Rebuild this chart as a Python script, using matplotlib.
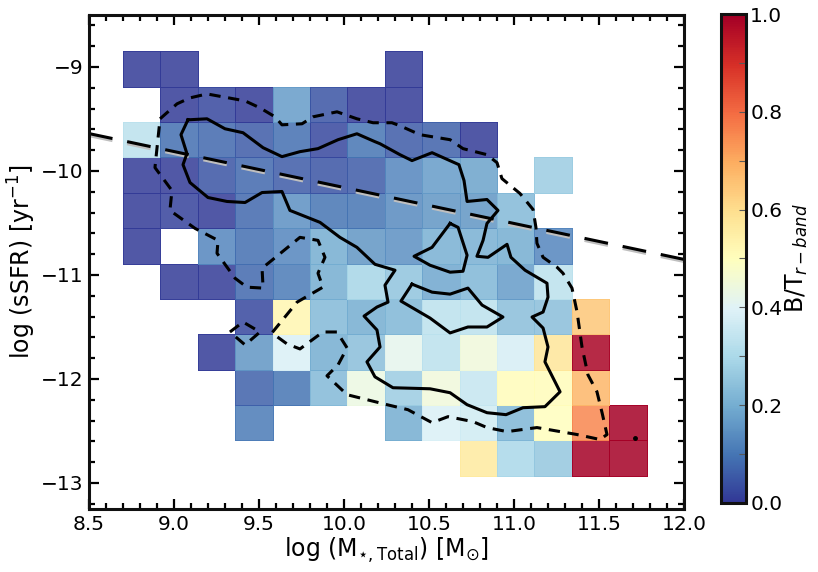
import numpy as np
from matplotlib import pyplot as plt
from matplotlib.ticker import MultipleLocator

n = np.nan

# bins of the map
x_edges = [8.70, 8.92, 9.14, 9.36, 9.58, 9.80, 10.02, 10.24, 10.46, 10.68, 10.90, 11.12, 11.34, 11.56, 11.78]
y_edges = [-12.93, -12.59, -12.25, -11.91, -11.57, -11.23, -10.89, -10.55, -10.21, -9.87, -9.53, -9.19, -8.85]

# B/T per bin, bottom row first
bt_rows = [
    [n, n, n, n, n, n, n, n, n, .57, .30, .26, 1.0, 1.0],
    [n, n, n, .11, n, n, n, .20, .39, .37, .22, .50, .76, 1.0],
    [n, n, n, .07, .10, .23, .44, .27, .45, .35, .51, .51, .68, n],
    [n, n, .01, .16, .39, .20, .24, .42, .33, .45, .38, .58, .99, n],
    [n, n, n, .03, .53, .23, .20, .22, .33, .33, .24, .24, .65, n],
    [n, .01, .01, .08, .11, .20, .29, .25, .19, .22, .17, .33, n, n],
    [.01, n, .13, .09, .13, .20, .16, .15, .21, .21, .20, .13, n, n],
    [.01, .02, .01, .08, .15, .10, .10, .14, .16, .16, .23, n, n, n],
    [.01, .01, .05, .08, .06, .05, .06, .13, .17, .18, n, .27, n, n],
    [.33, .09, .08, .06, .09, .03, .10, .06, .07, .01, n, n, n, n],
    [n, .01, .03, .01, .17, .05, .01, .01, n, n, n, n, n, n],
    [.01, .01, n, n, n, n, n, .01, n, n, n, n, n, n],
]

# fit line
line_x = [8.5, 12.0]
line_y = [-9.64, -10.85]

# dashed contour
dash_x = [8.918, 9.018, 9.094, 9.194, 9.288, 9.418, 9.506, 9.594, 9.635, 9.753, 9.818, 9.959, 10.076, 10.171, 10.282,
          10.329, 10.447, 10.624, 10.7, 10.841, 10.9, 10.929, 11.035, 11.112, 11.129, 11.135, 11.171, 11.253, 11.288,
          11.341, 11.371, 11.4, 11.435, 11.488, 11.518, 11.547, 11.506, 11.371, 11.135, 10.959, 10.841, 10.759, 10.612,
          10.518, 10.376, 10.253, 10.018, 9.9, 9.965, 10.018, 9.959, 9.876, 9.812, 9.741, 9.665, 9.576, 9.724, 9.876,
          9.847, 9.888, 9.847, 9.741, 9.576, 9.518, 9.524, 9.429, 9.359, 9.253, 9.259, 9.124, 8.976, 8.988, 8.888, 8.918]
dash_y = [-9.498, -9.354, -9.297, -9.259, -9.287, -9.326, -9.393, -9.479, -9.556, -9.546, -9.479, -9.431, -9.498,
          -9.536, -9.536, -9.565, -9.651, -9.699, -9.785, -9.843, -9.92, -10.073, -10.216, -10.37, -10.542, -10.695,
          -10.83, -10.925, -10.983, -11.126, -11.356, -11.692, -11.96, -12.123, -12.324, -12.534, -12.582, -12.534,
          -12.467, -12.506, -12.467, -12.41, -12.362, -12.42, -12.295, -12.247, -12.151, -11.969, -11.864, -11.701,
          -11.548, -11.548, -11.625, -11.711, -11.663, -11.557, -11.261, -11.117, -10.983, -10.83, -10.667, -10.638,
          -10.858, -10.935, -11.126, -11.117, -11.031, -10.791, -10.667, -10.552, -10.379, -10.188, -9.967, -9.498]

# small dashed loop
loop_x = [9.329, 9.406, 9.506, 9.418, 9.329]
loop_y = [-11.548, -11.452, -11.548, -11.672, -11.548]

# solid contours
solid_x = [9.082, 9.194, 9.3, 9.406, 9.524, 9.635, 9.741, 9.847, 9.965, 10.076, 10.182, 10.212, 10.329, 10.4, 10.518,
           10.676, 10.706, 10.724, 10.841, 10.906, 10.841, 10.818, 10.782, 10.847, 10.959, 10.982, 11.065, 11.194, 11.2,
           11.171, 11.106, 11.171, 11.2, 11.182, 11.271, 11.182, 11.053, 10.953, 10.841, 10.724, 10.624, 10.506, 10.288,
           10.182, 10.135, 10.212, 10.194, 10.118, 10.194, 10.259, 10.241, 10.3, 10.182, 10.076, 9.976, 9.859, 9.682,
           9.635, 9.518, 9.418, 9.312, 9.2, 9.094, 9.053, 9.076, 9.041, 9.082]
solid_y = [-9.508, -9.498, -9.594, -9.632, -9.776, -9.862, -9.814, -9.785, -9.699, -9.642, -9.718, -9.738, -9.843, -9.9,
           -9.824, -9.939, -10.092, -10.293, -10.274, -10.379, -10.504, -10.667, -10.82, -10.83, -10.705, -10.83,
           -10.954, -11.079, -11.213, -11.356, -11.404, -11.51, -11.692, -11.835, -12.123, -12.266, -12.276, -12.343,
           -12.324, -12.247, -12.132, -12.094, -12.084, -11.979, -11.835, -11.692, -11.529, -11.395, -11.308, -11.261,
           -11.098, -10.954, -10.897, -10.734, -10.638, -10.494, -10.379, -10.197, -10.207, -10.303, -10.293, -10.255,
           -10.111, -9.939, -9.833, -9.651, -9.508]
inner1_x = [10.624, 10.671, 10.724, 10.7, 10.624, 10.506, 10.412, 10.518, 10.624]
inner1_y = [-10.504, -10.542, -10.81, -10.964, -10.973, -10.906, -10.82, -10.734, -10.504]
inner2_x = [10.4, 10.518, 10.624, 10.729, 10.812, 10.935, 10.841, 10.729, 10.624, 10.506, 10.335, 10.4]
inner2_y = [-11.088, -11.165, -11.184, -11.126, -11.289, -11.404, -11.5, -11.5, -11.557, -11.414, -11.251, -11.088]

# lone point of the dashed contour
dot_x = [11.712]
dot_y = [-12.563]

fig = plt.figure(figsize=(8.18, 5.72), dpi=100)
ax = fig.add_axes([89 / 818, 1 - 509 / 572, 595 / 818, 494 / 572])
cax = fig.add_axes([721 / 818, 1 - 503 / 572, 25 / 818, 489 / 572])

bt = np.ma.masked_invalid(np.array(bt_rows, dtype=float))
mesh = ax.pcolormesh(x_edges, y_edges, bt, cmap='RdYlBu_r', vmin=0, vmax=1, alpha=0.85,
                     edgecolors='face', linewidth=0.4)

# grey line under the black one gives the soft edge
ax.plot(line_x, [v - 0.02 for v in line_y], color='0.75', lw=2.2, dashes=(7.85, 4.9))
ax.plot(line_x, line_y, color='k', lw=2.2, dashes=(7.85, 4.9))

ax.plot(dash_x, dash_y, color='k', lw=2.2, dashes=(3.7, 2.5))
ax.plot(loop_x, loop_y, color='k', lw=2.2, dashes=(3.7, 2.5))
ax.plot(solid_x, solid_y, color='k', lw=2.2)
ax.plot(inner1_x, inner1_y, color='k', lw=2.2)
ax.plot(inner2_x, inner2_y, color='k', lw=2.2)
ax.plot(dot_x, dot_y, 'o', color='k', ms=2.5)

ax.set_xlim(8.5, 12.0)
ax.set_ylim(-13.25, -8.5)
ax.xaxis.set_major_locator(MultipleLocator(0.5))
ax.xaxis.set_minor_locator(MultipleLocator(0.1))
ax.yaxis.set_major_locator(MultipleLocator(1))
ax.yaxis.set_minor_locator(MultipleLocator(0.2))
ax.tick_params(which='both', direction='in', top=True, right=True, width=1.6, labelsize=14.5)
ax.tick_params(which='major', length=7, pad=4)
ax.tick_params(which='minor', length=4)
for s in ax.spines.values():
    s.set_linewidth(2.2)
    s.set_color('#111111')

ax.set_xlabel(r'$\log\,(\rm{M}_{\star,Total})\ [\rm{M}_{\odot}]$', fontsize=17, labelpad=2)
ax.set_ylabel(r'$\log\,(\rm{sSFR})\ [\rm{yr}^{-1}]$', fontsize=17, labelpad=2)

cb = fig.colorbar(mesh, cax=cax)
cb.solids.set_edgecolor('face')
cb.set_ticks([0, 0.2, 0.4, 0.6, 0.8, 1.0])
cb.ax.yaxis.set_minor_locator(MultipleLocator(0.1))
cb.ax.tick_params(which='both', direction='in', color='0.35', width=0.8, labelsize=14.5, pad=3)
cb.ax.tick_params(which='major', length=5)
cb.ax.tick_params(which='minor', length=5)
cb.outline.set_linewidth(2.2)
cb.outline.set_edgecolor('#111111')
cb.set_label(r'B/T$_{r-band}$', fontsize=17, labelpad=1)

fig.savefig('out.png', dpi=100)
